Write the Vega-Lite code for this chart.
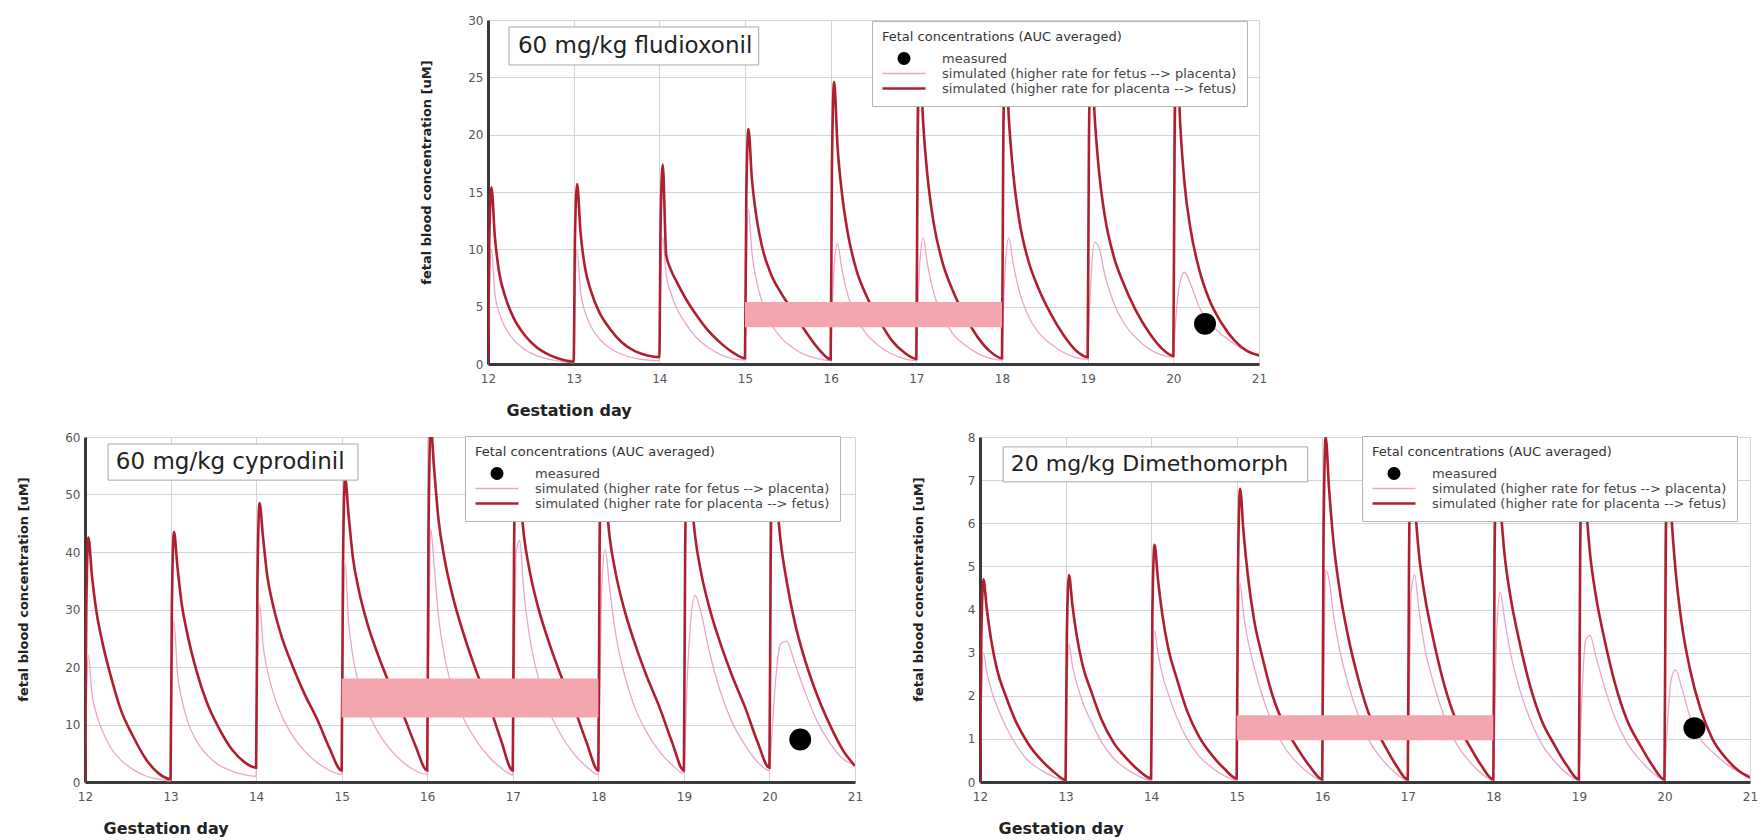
{
  "$schema": "https://vega.github.io/schema/vega-lite/v6.json",
  "background": "white",
  "padding": {"left": 17, "top": 14, "right": 5, "bottom": 5},
  "config": {
    "view": {"stroke": null},
    "font": "DejaVu Sans",
    "axis": {
      "labelFont": "DejaVu Sans", "labelFontSize": 12, "labelColor": "#555555",
      "titleFont": "DejaVu Sans", "titleFontWeight": "bold", "titleColor": "#222222",
      "grid": true, "gridColor": "#d4d4d4", "gridWidth": 1,
      "domainColor": "#3a3a3a", "domainWidth": 3, "ticks": false
    },
    "axisX": {"labelPadding": 9, "labelFlush": false, "titleFontSize": 16, "titleX": 18, "titleY": 46, "titleAlign": "left", "titleBaseline": "middle"},
    "axisY": {"labelPadding": 5, "titleFontSize": 13, "titleX": -62, "titleY": 152, "titleAngle": 270, "titleAlign": "center", "titleBaseline": "middle"},
    "legend": {
      "orient": "none",
      "titleFont": "DejaVu Sans", "titleFontSize": 13, "titleFontWeight": "normal", "titleColor": "#333333", "titlePadding": 7, "titleLimit": 600,
      "labelFont": "DejaVu Sans", "labelFontSize": 13, "labelColor": "#444444", "labelLimit": 600, "labelOffset": 16,
      "fillColor": "white", "strokeColor": "#b4b4b4", "padding": 10,
      "symbolSize": 1850, "symbolType": "stroke", "clipHeight": 15, "rowPadding": 0
    },
    "text": {"font": "DejaVu Sans"}
  },
  "datasets": {
    "flu": [
      {"t":12,"fp":0,"pf":0},{"t":12.015,"fp":6,"pf":10.8},{"t":12.04,"fp":10,"pf":15.4},{"t":12.08,"fp":6.2,"pf":11.1},{"t":12.13,"fp":4.5,"pf":8.0},{"t":12.2,"fp":3.2,"pf":5.9},{"t":12.3,"fp":2.1,"pf":4.0},{"t":12.42,"fp":1.3,"pf":2.6},{"t":12.56,"fp":0.75,"pf":1.5},{"t":12.72,"fp":0.4,"pf":0.77},{"t":12.86,"fp":0.2,"pf":0.39},
      {"t":13,"fp":0.1,"pf":0.2},{"t":13.015,"fp":6,"pf":11.0},{"t":13.04,"fp":10,"pf":15.7},{"t":13.08,"fp":6.3,"pf":11.5},{"t":13.13,"fp":4.6,"pf":8.5},{"t":13.2,"fp":3.3,"pf":6.4},{"t":13.3,"fp":2.2,"pf":4.5},{"t":13.42,"fp":1.4,"pf":3.1},{"t":13.56,"fp":0.85,"pf":1.9},{"t":13.72,"fp":0.5,"pf":1.1},{"t":13.86,"fp":0.35,"pf":0.75},
      {"t":14,"fp":0.3,"pf":0.6},{"t":14.015,"fp":6.6,"pf":12.2},{"t":14.04,"fp":11,"pf":17.4},{"t":14.08,"fp":7.8,"pf":9.5},{"t":14.13,"fp":6.3,"pf":8.3},{"t":14.2,"fp":4.9,"pf":7.2},{"t":14.3,"fp":3.6,"pf":5.8},{"t":14.42,"fp":2.4,"pf":4.4},{"t":14.56,"fp":1.5,"pf":3.0},{"t":14.72,"fp":0.8,"pf":1.8},{"t":14.86,"fp":0.45,"pf":1.0},
      {"t":15,"fp":0.35,"pf":0.5},{"t":15.015,"fp":8.1,"pf":14.4},{"t":15.04,"fp":13.5,"pf":20.5},{"t":15.08,"fp":9.8,"pf":16.2},{"t":15.13,"fp":7.4,"pf":13.0},{"t":15.2,"fp":5.4,"pf":10.2},{"t":15.3,"fp":3.6,"pf":7.9},{"t":15.42,"fp":2.3,"pf":6.2},{"t":15.56,"fp":1.4,"pf":4.6},{"t":15.72,"fp":0.75,"pf":2.7},{"t":15.86,"fp":0.45,"pf":1.3},
      {"t":16,"fp":0.3,"pf":0.4},{"t":16.015,"fp":4.0,"pf":17.2},{"t":16.04,"fp":8.5,"pf":24.6},{"t":16.08,"fp":10.5,"pf":19.0},{"t":16.13,"fp":8.3,"pf":15.0},{"t":16.2,"fp":6.0,"pf":11.4},{"t":16.3,"fp":4.0,"pf":8.2},{"t":16.42,"fp":2.6,"pf":5.9},{"t":16.56,"fp":1.6,"pf":3.9},{"t":16.72,"fp":0.85,"pf":2.0},{"t":16.86,"fp":0.45,"pf":1.0},
      {"t":17,"fp":0.3,"pf":0.45},{"t":17.015,"fp":4.2,"pf":19},{"t":17.04,"fp":8.8,"pf":27},{"t":17.08,"fp":11,"pf":21},{"t":17.13,"fp":8.7,"pf":16.4},{"t":17.2,"fp":6.3,"pf":12.4},{"t":17.3,"fp":4.2,"pf":9.0},{"t":17.42,"fp":2.7,"pf":6.5},{"t":17.56,"fp":1.7,"pf":4.3},{"t":17.72,"fp":0.9,"pf":2.3},{"t":17.86,"fp":0.5,"pf":1.1},
      {"t":18,"fp":0.35,"pf":0.5},{"t":18.015,"fp":4.2,"pf":19.3},{"t":18.04,"fp":8.8,"pf":27.5},{"t":18.08,"fp":11,"pf":21.4},{"t":18.13,"fp":8.8,"pf":16.7},{"t":18.2,"fp":6.4,"pf":12.6},{"t":18.3,"fp":4.3,"pf":9.2},{"t":18.42,"fp":2.8,"pf":6.7},{"t":18.56,"fp":1.8,"pf":4.5},{"t":18.72,"fp":1.0,"pf":2.5},{"t":18.86,"fp":0.55,"pf":1.2},
      {"t":19,"fp":0.4,"pf":0.6},{"t":19.015,"fp":3.5,"pf":19.6},{"t":19.04,"fp":7.6,"pf":28},{"t":19.08,"fp":10.6,"pf":21.8},{"t":19.13,"fp":10.2,"pf":17.0},{"t":19.2,"fp":7.8,"pf":12.9},{"t":19.3,"fp":5.4,"pf":9.5},{"t":19.42,"fp":3.6,"pf":7.0},{"t":19.56,"fp":2.3,"pf":4.7},{"t":19.72,"fp":1.3,"pf":2.7},{"t":19.86,"fp":0.8,"pf":1.4},
      {"t":20,"fp":0.6,"pf":0.7},{"t":20.015,"fp":2.4,"pf":19.6},{"t":20.04,"fp":5.0,"pf":28},{"t":20.08,"fp":7.2,"pf":21},{"t":20.13,"fp":8.0,"pf":15.8},{"t":20.2,"fp":7.0,"pf":11.8},{"t":20.3,"fp":5.0,"pf":8.3},{"t":20.42,"fp":3.6,"pf":5.6},{"t":20.56,"fp":2.6,"pf":3.6},{"t":20.72,"fp":1.7,"pf":2.0},{"t":20.86,"fp":1.1,"pf":1.15},
      {"t":21,"fp":0.8,"pf":0.75}
    ],
    "cyp": [
      {"t":12,"fp":0,"pf":0},{"t":12.015,"fp":13,"pf":30},{"t":12.04,"fp":22,"pf":42.5},{"t":12.08,"fp":15.5,"pf":36},{"t":12.13,"fp":12,"pf":30},{"t":12.2,"fp":9.0,"pf":24.5},{"t":12.3,"fp":6.0,"pf":18.5},{"t":12.42,"fp":3.8,"pf":12.5},{"t":12.56,"fp":2.2,"pf":8},{"t":12.72,"fp":1.0,"pf":3.8},{"t":12.86,"fp":0.5,"pf":1.5},
      {"t":13,"fp":0.2,"pf":0.5},{"t":13.015,"fp":17,"pf":30},{"t":13.04,"fp":28,"pf":43.5},{"t":13.08,"fp":19,"pf":37.5},{"t":13.13,"fp":14.5,"pf":31},{"t":13.2,"fp":10.5,"pf":25.5},{"t":13.3,"fp":7.2,"pf":19.5},{"t":13.42,"fp":4.8,"pf":14},{"t":13.56,"fp":3.0,"pf":9.5},{"t":13.72,"fp":1.9,"pf":5.6},{"t":13.86,"fp":1.3,"pf":3.5},
      {"t":14,"fp":1.0,"pf":2.5},{"t":14.015,"fp":19,"pf":34},{"t":14.04,"fp":31,"pf":48.5},{"t":14.08,"fp":24,"pf":42.7},{"t":14.13,"fp":19.5,"pf":35.9},{"t":14.2,"fp":15.5,"pf":30.6},{"t":14.3,"fp":11.5,"pf":25.2},{"t":14.42,"fp":8.2,"pf":20.4},{"t":14.56,"fp":5.5,"pf":15.5},{"t":14.72,"fp":3.3,"pf":10.7},{"t":14.86,"fp":2.0,"pf":5.8},
      {"t":15,"fp":1.3,"pf":2},{"t":15.015,"fp":23,"pf":37},{"t":15.04,"fp":38,"pf":53},{"t":15.08,"fp":28,"pf":46.6},{"t":15.13,"fp":22,"pf":39.2},{"t":15.2,"fp":17,"pf":33.4},{"t":15.3,"fp":12.5,"pf":27.6},{"t":15.42,"fp":8.8,"pf":22.3},{"t":15.56,"fp":5.8,"pf":17.0},{"t":15.72,"fp":3.4,"pf":11.7},{"t":15.86,"fp":2.0,"pf":6.4},
      {"t":16,"fp":1.3,"pf":2},{"t":16.015,"fp":20,"pf":43},{"t":16.04,"fp":44,"pf":62},{"t":16.08,"fp":38,"pf":54.6},{"t":16.13,"fp":29,"pf":45.9},{"t":16.2,"fp":22,"pf":39},{"t":16.3,"fp":16,"pf":32.2},{"t":16.42,"fp":11.2,"pf":26},{"t":16.56,"fp":7.5,"pf":19.8},{"t":16.72,"fp":4.4,"pf":13.6},{"t":16.86,"fp":2.5,"pf":7.4},
      {"t":17,"fp":1.2,"pf":2},{"t":17.015,"fp":16,"pf":40.6},{"t":17.04,"fp":40,"pf":58},{"t":17.08,"fp":42,"pf":51},{"t":17.13,"fp":33,"pf":42.9},{"t":17.2,"fp":25,"pf":36.5},{"t":17.3,"fp":18,"pf":30.2},{"t":17.42,"fp":12.5,"pf":24.4},{"t":17.56,"fp":8.3,"pf":18.6},{"t":17.72,"fp":4.8,"pf":12.8},{"t":17.86,"fp":2.7,"pf":7.0},
      {"t":18,"fp":1.3,"pf":2},{"t":18.015,"fp":12,"pf":40.6},{"t":18.04,"fp":34,"pf":58},{"t":18.08,"fp":40.5,"pf":51},{"t":18.13,"fp":34,"pf":42.9},{"t":18.2,"fp":26,"pf":36.5},{"t":18.3,"fp":19,"pf":30.2},{"t":18.42,"fp":13.2,"pf":24.4},{"t":18.56,"fp":8.8,"pf":18.6},{"t":18.72,"fp":5.2,"pf":12.8},{"t":18.86,"fp":3.0,"pf":7.0},
      {"t":19,"fp":1.5,"pf":2},{"t":19.015,"fp":7,"pf":40.6},{"t":19.04,"fp":18,"pf":58},{"t":19.08,"fp":28,"pf":51},{"t":19.13,"fp":32.5,"pf":42.9},{"t":19.2,"fp":29.5,"pf":36.5},{"t":19.3,"fp":22.5,"pf":30.2},{"t":19.42,"fp":16,"pf":24.4},{"t":19.56,"fp":10.5,"pf":18.6},{"t":19.72,"fp":6.3,"pf":12.8},{"t":19.86,"fp":3.5,"pf":7.0},
      {"t":20,"fp":2,"pf":2.5},{"t":20.015,"fp":5,"pf":40},{"t":20.04,"fp":11,"pf":58},{"t":20.08,"fp":19,"pf":50},{"t":20.13,"fp":24,"pf":42},{"t":20.2,"fp":24.5,"pf":35},{"t":20.3,"fp":20.5,"pf":27.5},{"t":20.42,"fp":15.5,"pf":21},{"t":20.56,"fp":10.5,"pf":15},{"t":20.72,"fp":6.5,"pf":9.5},{"t":20.86,"fp":4.0,"pf":5.5},
      {"t":21,"fp":3.0,"pf":2.8}
    ],
    "dim": [
      {"t":12,"fp":0,"pf":0},{"t":12.015,"fp":1.8,"pf":3.3},{"t":12.04,"fp":3.0,"pf":4.7},{"t":12.08,"fp":2.55,"pf":4.0},{"t":12.13,"fp":2.15,"pf":3.3},{"t":12.2,"fp":1.75,"pf":2.6},{"t":12.3,"fp":1.3,"pf":2.0},{"t":12.42,"fp":0.87,"pf":1.4},{"t":12.56,"fp":0.5,"pf":0.9},{"t":12.72,"fp":0.27,"pf":0.5},{"t":12.86,"fp":0.12,"pf":0.24},
      {"t":13,"fp":0.03,"pf":0.05},{"t":13.015,"fp":1.9,"pf":3.4},{"t":13.04,"fp":3.2,"pf":4.8},{"t":13.08,"fp":2.7,"pf":4.1},{"t":13.13,"fp":2.3,"pf":3.4},{"t":13.2,"fp":1.85,"pf":2.7},{"t":13.3,"fp":1.4,"pf":2.1},{"t":13.42,"fp":0.93,"pf":1.45},{"t":13.56,"fp":0.55,"pf":0.92},{"t":13.72,"fp":0.29,"pf":0.53},{"t":13.86,"fp":0.13,"pf":0.26},
      {"t":14,"fp":0.04,"pf":0.08},{"t":14.015,"fp":2.1,"pf":3.9},{"t":14.04,"fp":3.5,"pf":5.5},{"t":14.08,"fp":3.0,"pf":4.7},{"t":14.13,"fp":2.5,"pf":3.9},{"t":14.2,"fp":2.05,"pf":3.1},{"t":14.3,"fp":1.5,"pf":2.4},{"t":14.42,"fp":1.0,"pf":1.65},{"t":14.56,"fp":0.6,"pf":1.05},{"t":14.72,"fp":0.32,"pf":0.6},{"t":14.86,"fp":0.14,"pf":0.3},
      {"t":15,"fp":0.04,"pf":0.08},{"t":15.015,"fp":2.8,"pf":4.8},{"t":15.04,"fp":4.6,"pf":6.8},{"t":15.08,"fp":3.9,"pf":5.8},{"t":15.13,"fp":3.3,"pf":4.8},{"t":15.2,"fp":2.7,"pf":3.8},{"t":15.3,"fp":2.0,"pf":2.9},{"t":15.42,"fp":1.35,"pf":2.0},{"t":15.56,"fp":0.8,"pf":1.3},{"t":15.72,"fp":0.42,"pf":0.75},{"t":15.86,"fp":0.18,"pf":0.35},
      {"t":16,"fp":0.04,"pf":0.06},{"t":16.015,"fp":2.0,"pf":5.6},{"t":16.04,"fp":4.9,"pf":8.0},{"t":16.08,"fp":4.7,"pf":6.8},{"t":16.13,"fp":3.9,"pf":5.6},{"t":16.2,"fp":3.1,"pf":4.5},{"t":16.3,"fp":2.3,"pf":3.4},{"t":16.42,"fp":1.55,"pf":2.4},{"t":16.56,"fp":0.92,"pf":1.5},{"t":16.72,"fp":0.48,"pf":0.88},{"t":16.86,"fp":0.2,"pf":0.4},
      {"t":17,"fp":0.04,"pf":0.06},{"t":17.015,"fp":1.7,"pf":5.3},{"t":17.04,"fp":4.4,"pf":7.6},{"t":17.08,"fp":4.8,"pf":6.5},{"t":17.13,"fp":4.0,"pf":5.3},{"t":17.2,"fp":3.1,"pf":4.3},{"t":17.3,"fp":2.3,"pf":3.3},{"t":17.42,"fp":1.55,"pf":2.3},{"t":17.56,"fp":0.92,"pf":1.45},{"t":17.72,"fp":0.48,"pf":0.84},{"t":17.86,"fp":0.2,"pf":0.38},
      {"t":18,"fp":0.04,"pf":0.06},{"t":18.015,"fp":1.3,"pf":5.3},{"t":18.04,"fp":3.5,"pf":7.6},{"t":18.08,"fp":4.4,"pf":6.5},{"t":18.13,"fp":3.8,"pf":5.3},{"t":18.2,"fp":3.0,"pf":4.3},{"t":18.3,"fp":2.2,"pf":3.3},{"t":18.42,"fp":1.5,"pf":2.3},{"t":18.56,"fp":0.9,"pf":1.45},{"t":18.72,"fp":0.47,"pf":0.84},{"t":18.86,"fp":0.2,"pf":0.38},
      {"t":19,"fp":0.05,"pf":0.06},{"t":19.015,"fp":0.9,"pf":5.3},{"t":19.04,"fp":2.2,"pf":7.6},{"t":19.08,"fp":3.3,"pf":6.5},{"t":19.13,"fp":3.4,"pf":5.3},{"t":19.2,"fp":2.9,"pf":4.3},{"t":19.3,"fp":2.2,"pf":3.3},{"t":19.42,"fp":1.5,"pf":2.3},{"t":19.56,"fp":0.92,"pf":1.45},{"t":19.72,"fp":0.5,"pf":0.84},{"t":19.86,"fp":0.22,"pf":0.38},
      {"t":20,"fp":0.05,"pf":0.06},{"t":20.015,"fp":0.6,"pf":5.3},{"t":20.04,"fp":1.5,"pf":7.6},{"t":20.08,"fp":2.4,"pf":6.2},{"t":20.13,"fp":2.6,"pf":4.9},{"t":20.2,"fp":2.2,"pf":3.7},{"t":20.3,"fp":1.5,"pf":2.6},{"t":20.42,"fp":1.0,"pf":1.7},{"t":20.56,"fp":0.7,"pf":1.0},{"t":20.72,"fp":0.42,"pf":0.55},{"t":20.86,"fp":0.25,"pf":0.27},
      {"t":21,"fp":0.15,"pf":0.1}
    ]
  },
  "spacing": 13,
  "resolve": {"scale": {"stroke": "independent", "strokeWidth": "independent"}, "legend": {"stroke": "independent"}},
  "vconcat": [
    {
      "bounds": "flush",
      "spacing": 0,
      "resolve": {"scale": {"stroke": "independent", "strokeWidth": "independent"}, "legend": {"stroke": "independent"}},
      "hconcat": [
        {"width": 403, "height": 344, "data": {"values": []}, "mark": "rect", "encoding": {}},
        {
          "width": 771, "height": 344,
          "data": {"name": "flu"},
          "layer": [
            {
              "transform": [{"fold": ["fp", "pf"], "as": ["series", "c"]}],
              "mark": {"type": "line", "clip": true, "interpolate": "monotone"},
              "encoding": {
                "x": {"field": "t", "type": "quantitative", "scale": {"domain": [12, 21]}, "axis": {"title": "Gestation day", "values": [12,13,14,15,16,17,18,19,20,21], "format": "d"}},
                "y": {"field": "c", "type": "quantitative", "scale": {"domain": [0, 30]}, "axis": {"title": "fetal blood concentration [uM]", "values": [0,5,10,15,20,25,30]}},
                "stroke": {
                  "field": "series", "type": "nominal",
                  "scale": {"domain": ["measured", "fp", "pf"], "range": ["#000000", "#eba6c6", "#b01f2f"]},
                  "legend": {
                    "title": "Fetal concentrations (AUC averaged)", "legendX": 384, "legendY": 1,
                    "labelExpr": "datum.value === 'fp' ? 'simulated (higher rate for fetus --> placenta)' : datum.value === 'pf' ? 'simulated (higher rate for placenta --> fetus)' : 'measured'",
                    "encode": {"symbols": {"update": {
                      "shape": {"signal": "datum.value === 'measured' ? 'M-0.3,0A0.3,0.3,0,1,0,0.3,0A0.3,0.3,0,1,0,-0.3,0Z' : 'stroke'"},
                      "fill": {"signal": "datum.value === 'measured' ? '#000000' : 'transparent'"},
                      "strokeWidth": {"signal": "(datum.value === 'pf' ? 2.6 : datum.value === 'fp' ? 1.4 : 0)"}
                    }}}
                  }
                },
                "strokeWidth": {"field": "series", "type": "nominal", "scale": {"domain": ["fp", "pf"], "range": [1.3, 2.6]}, "legend": null}
              }
            },
            {
              "data": {"values": [{"start": 15, "end": 18, "lo": 3.2, "hi": 5.4}]},
              "mark": {"type": "rect", "color": "#f3a6ad"},
              "encoding": {"x": {"field": "start", "type": "quantitative"}, "x2": {"field": "end"}, "y": {"field": "lo", "type": "quantitative"}, "y2": {"field": "hi"}}
            },
            {
              "data": {"values": [{"t": 20.37, "c": 3.5}]},
              "mark": {"type": "point", "filled": true, "color": "#000000", "size": 480, "opacity": 1},
              "encoding": {"x": {"field": "t", "type": "quantitative"}, "y": {"field": "c", "type": "quantitative"}}
            },
            {
              "data": {"values": [{"label": "60 mg/kg fludioxonil"}]},
              "layer": [
                {"mark": {"type": "rect", "fill": "white", "stroke": "#a8a8a8", "strokeWidth": 1},
                 "encoding": {"x": {"datum": 12.245, "type": "quantitative"}, "x2": {"datum": 15.16}, "y": {"datum": 29.39, "type": "quantitative"}, "y2": {"datum": 26.08}}},
                {"mark": {"type": "text", "align": "left", "baseline": "middle", "fontSize": 23, "color": "#222222"},
                 "encoding": {"x": {"datum": 12.35, "type": "quantitative"}, "y": {"datum": 27.73, "type": "quantitative"}, "text": {"field": "label"}}}
              ]
            }
          ]
        }
      ]
    },
    {
      "bounds": "flush",
      "spacing": 125,
      "resolve": {"scale": {"stroke": "independent", "strokeWidth": "independent"}, "legend": {"stroke": "independent"}},
      "hconcat": [
        {
          "width": 770, "height": 345,
          "data": {"name": "cyp"},
          "layer": [
            {
              "transform": [{"fold": ["fp", "pf"], "as": ["series", "c"]}],
              "mark": {"type": "line", "clip": true, "interpolate": "monotone"},
              "encoding": {
                "x": {"field": "t", "type": "quantitative", "scale": {"domain": [12, 21]}, "axis": {"title": "Gestation day", "values": [12,13,14,15,16,17,18,19,20,21], "format": "d"}},
                "y": {"field": "c", "type": "quantitative", "scale": {"domain": [0, 60]}, "axis": {"title": "fetal blood concentration [uM]", "values": [0,10,20,30,40,50,60]}},
                "stroke": {
                  "field": "series", "type": "nominal",
                  "scale": {"domain": ["measured", "fp", "pf"], "range": ["#000000", "#eba6c6", "#b01f2f"]},
                  "legend": {
                    "title": "Fetal concentrations (AUC averaged)", "legendX": 380, "legendY": -1,
                    "labelExpr": "datum.value === 'fp' ? 'simulated (higher rate for fetus --> placenta)' : datum.value === 'pf' ? 'simulated (higher rate for placenta --> fetus)' : 'measured'",
                    "encode": {"symbols": {"update": {
                      "shape": {"signal": "datum.value === 'measured' ? 'M-0.3,0A0.3,0.3,0,1,0,0.3,0A0.3,0.3,0,1,0,-0.3,0Z' : 'stroke'"},
                      "fill": {"signal": "datum.value === 'measured' ? '#000000' : 'transparent'"},
                      "strokeWidth": {"signal": "(datum.value === 'pf' ? 2.6 : datum.value === 'fp' ? 1.4 : 0)"}
                    }}}
                  }
                },
                "strokeWidth": {"field": "series", "type": "nominal", "scale": {"domain": ["fp", "pf"], "range": [1.3, 2.6]}, "legend": null}
              }
            },
            {
              "data": {"values": [{"start": 15, "end": 18, "lo": 11.2, "hi": 18.0}]},
              "mark": {"type": "rect", "color": "#f3a6ad"},
              "encoding": {"x": {"field": "start", "type": "quantitative"}, "x2": {"field": "end"}, "y": {"field": "lo", "type": "quantitative"}, "y2": {"field": "hi"}}
            },
            {
              "data": {"values": [{"t": 20.36, "c": 7.4}]},
              "mark": {"type": "point", "filled": true, "color": "#000000", "size": 480, "opacity": 1},
              "encoding": {"x": {"field": "t", "type": "quantitative"}, "y": {"field": "c", "type": "quantitative"}}
            },
            {
              "data": {"values": [{"label": "60 mg/kg cyprodinil"}]},
              "layer": [
                {"mark": {"type": "rect", "fill": "white", "stroke": "#a8a8a8", "strokeWidth": 1},
                 "encoding": {"x": {"datum": 12.27, "type": "quantitative"}, "x2": {"datum": 15.19}, "y": {"datum": 58.78, "type": "quantitative"}, "y2": {"datum": 52.5}}},
                {"mark": {"type": "text", "align": "left", "baseline": "middle", "fontSize": 23, "color": "#222222"},
                 "encoding": {"x": {"datum": 12.36, "type": "quantitative"}, "y": {"datum": 55.64, "type": "quantitative"}, "text": {"field": "label"}}}
              ]
            }
          ]
        },
        {
          "width": 770, "height": 345,
          "data": {"name": "dim"},
          "layer": [
            {
              "transform": [{"fold": ["fp", "pf"], "as": ["series", "c"]}],
              "mark": {"type": "line", "clip": true, "interpolate": "monotone"},
              "encoding": {
                "x": {"field": "t", "type": "quantitative", "scale": {"domain": [12, 21]}, "axis": {"title": "Gestation day", "values": [12,13,14,15,16,17,18,19,20,21], "format": "d"}},
                "y": {"field": "c", "type": "quantitative", "scale": {"domain": [0, 8]}, "axis": {"title": "fetal blood concentration [uM]", "values": [0,1,2,3,4,5,6,7,8]}},
                "stroke": {
                  "field": "series", "type": "nominal",
                  "scale": {"domain": ["measured", "fp", "pf"], "range": ["#000000", "#eba6c6", "#b01f2f"]},
                  "legend": {
                    "title": "Fetal concentrations (AUC averaged)", "legendX": 382, "legendY": -1,
                    "labelExpr": "datum.value === 'fp' ? 'simulated (higher rate for fetus --> placenta)' : datum.value === 'pf' ? 'simulated (higher rate for placenta --> fetus)' : 'measured'",
                    "encode": {"symbols": {"update": {
                      "shape": {"signal": "datum.value === 'measured' ? 'M-0.3,0A0.3,0.3,0,1,0,0.3,0A0.3,0.3,0,1,0,-0.3,0Z' : 'stroke'"},
                      "fill": {"signal": "datum.value === 'measured' ? '#000000' : 'transparent'"},
                      "strokeWidth": {"signal": "(datum.value === 'pf' ? 2.6 : datum.value === 'fp' ? 1.4 : 0)"}
                    }}}
                  }
                },
                "strokeWidth": {"field": "series", "type": "nominal", "scale": {"domain": ["fp", "pf"], "range": [1.3, 2.6]}, "legend": null}
              }
            },
            {
              "data": {"values": [{"start": 15, "end": 18, "lo": 0.97, "hi": 1.55}]},
              "mark": {"type": "rect", "color": "#f3a6ad"},
              "encoding": {"x": {"field": "start", "type": "quantitative"}, "x2": {"field": "end"}, "y": {"field": "lo", "type": "quantitative"}, "y2": {"field": "hi"}}
            },
            {
              "data": {"values": [{"t": 20.35, "c": 1.25}]},
              "mark": {"type": "point", "filled": true, "color": "#000000", "size": 480, "opacity": 1},
              "encoding": {"x": {"field": "t", "type": "quantitative"}, "y": {"field": "c", "type": "quantitative"}}
            },
            {
              "data": {"values": [{"label": "20 mg/kg Dimethomorph"}]},
              "layer": [
                {"mark": {"type": "rect", "fill": "white", "stroke": "#a8a8a8", "strokeWidth": 1},
                 "encoding": {"x": {"datum": 12.27, "type": "quantitative"}, "x2": {"datum": 15.83}, "y": {"datum": 7.77, "type": "quantitative"}, "y2": {"datum": 6.96}}},
                {"mark": {"type": "text", "align": "left", "baseline": "middle", "fontSize": 22, "color": "#222222"},
                 "encoding": {"x": {"datum": 12.36, "type": "quantitative"}, "y": {"datum": 7.365, "type": "quantitative"}, "text": {"field": "label"}}}
              ]
            }
          ]
        }
      ]
    }
  ]
}
